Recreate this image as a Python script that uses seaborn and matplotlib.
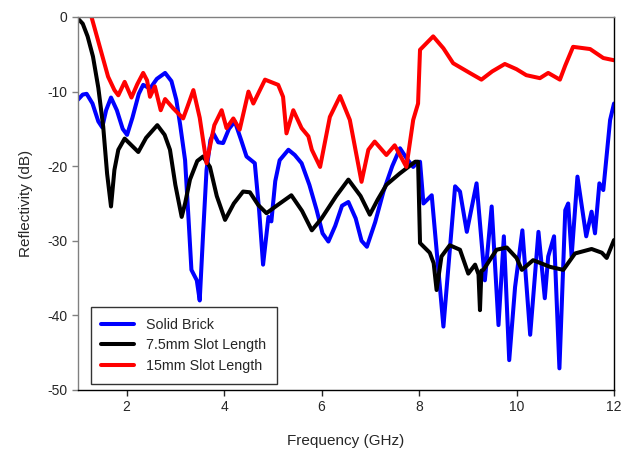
import matplotlib
matplotlib.use("Agg")
import matplotlib.pyplot as plt
import seaborn as sns
import pandas as pd

# ---- data ----
solid_x = [1.0, 1.1, 1.18, 1.3, 1.42, 1.5, 1.58, 1.68, 1.8, 1.92, 2.01, 2.12, 2.25, 2.34, 2.48, 2.62,
           2.79, 2.92, 3.02, 3.1, 3.2, 3.27, 3.33, 3.44, 3.5, 3.57, 3.64, 3.72, 3.78, 3.88, 3.98, 4.1,
           4.22, 4.35, 4.46, 4.63, 4.72, 4.8, 4.91, 4.97, 5.05, 5.14, 5.32, 5.45, 5.59, 5.75, 5.9, 6.02,
           6.14, 6.28, 6.42, 6.55, 6.7, 6.82, 6.93, 7.1, 7.27, 7.45, 7.61, 7.75, 7.88, 7.95, 8.02, 8.09,
           8.26, 8.5, 8.74, 8.84, 8.98, 9.18, 9.35, 9.49, 9.63, 9.74, 9.85, 9.97, 10.12, 10.28, 10.45,
           10.58, 10.65, 10.77, 10.88, 11.0, 11.06, 11.13, 11.25, 11.43, 11.54, 11.61, 11.7, 11.78,
           11.92, 12.0]
solid_y = [-11.1, -10.4, -10.3, -11.6, -14.0, -14.8, -12.5, -10.8, -12.5, -15.0, -15.8, -13.5, -10.3,
           -9.1, -9.6, -8.3, -7.5, -8.6, -11.1, -14.5, -19.2, -27.0, -33.9, -35.3, -38.0, -29.0, -20.5,
           -16.5, -15.6, -16.8, -16.9, -15.0, -14.0, -16.5, -18.7, -19.6, -26.0, -33.2, -26.8, -27.4,
           -22.0, -19.2, -17.8, -18.5, -19.6, -22.5, -25.9, -29.0, -30.1, -28.0, -25.3, -24.8, -27.0,
           -30.0, -30.8, -27.5, -23.4, -20.0, -17.6, -19.0, -20.1, -19.6, -19.4, -25.0, -23.9, -41.5,
           -22.7, -23.4, -28.8, -22.3, -35.3, -25.4, -41.3, -29.4, -46.0, -36.2, -28.6, -42.6, -28.8,
           -37.7, -32.1, -29.4, -47.1, -25.9, -25.0, -32.1, -21.4, -29.4, -26.1, -29.0, -22.3, -23.2,
           -13.8, -11.6]

slot75_x = [1.0, 1.1, 1.2, 1.31, 1.42, 1.52, 1.6, 1.68, 1.75, 1.83, 1.96, 2.1, 2.24, 2.4, 2.63, 2.78,
            2.89, 3.0, 3.13, 3.2, 3.3, 3.45, 3.57, 3.71, 3.85, 4.02, 4.2, 4.39, 4.53, 4.7, 4.87, 5.1,
            5.38, 5.6, 5.8, 6.0, 6.3, 6.55, 6.8, 6.99, 7.15, 7.33, 7.6, 7.92, 7.98, 8.02, 8.22, 8.3,
            8.36, 8.46, 8.63, 8.84, 9.01, 9.15, 9.22, 9.25, 9.28, 9.32, 9.59, 9.8, 10.0, 10.11, 10.34,
            10.69, 10.96, 11.2, 11.54, 11.75, 11.85, 12.0]
slot75_y = [-0.2, -0.9, -2.6, -5.3, -9.5, -14.7, -21.0, -25.4, -20.5, -17.8, -16.3, -17.2, -18.1,
            -16.2, -14.5, -15.8, -17.8, -22.5, -26.8, -25.0, -21.8, -19.3, -18.7, -20.1, -24.0, -27.2,
            -25.0, -23.4, -23.5, -25.2, -26.3, -25.2, -23.9, -26.0, -28.6, -27.0, -24.0, -21.8, -24.0,
            -26.5, -24.5, -22.5, -21.0, -19.4, -19.4, -30.3, -31.6, -33.0, -36.6, -32.1, -30.6, -31.2,
            -34.4, -33.2, -34.5, -39.3, -34.0, -33.9, -31.2, -30.9, -32.3, -33.9, -32.6, -33.5, -33.9,
            -31.7, -31.1, -31.6, -32.3, -29.9]

slot15_x = [1.0, 1.12, 1.22, 1.28, 1.45, 1.62, 1.75, 1.83, 1.96, 2.1, 2.22, 2.34, 2.42, 2.48, 2.58,
            2.7, 2.79, 2.95, 3.16, 3.25, 3.37, 3.5, 3.64, 3.8, 3.95, 4.05, 4.19, 4.32, 4.5, 4.6, 4.84,
            5.11, 5.21, 5.28, 5.42, 5.59, 5.73, 5.8, 5.97, 6.17, 6.38, 6.58, 6.82, 6.96, 7.09, 7.33,
            7.5, 7.74, 7.88, 7.98, 8.02, 8.29, 8.5, 8.7, 9.04, 9.28, 9.5, 9.76, 10.0, 10.2, 10.48,
            10.65, 10.89, 11.0, 11.16, 11.51, 11.78, 12.0]
slot15_y = [0.0, 2.0, 1.5, 0.0, -4.0, -8.0, -9.8, -10.5, -8.7, -10.8, -9.0, -7.5, -8.5, -10.7, -9.3,
            -12.5, -11.0, -12.2, -13.6, -12.0, -9.8, -13.5, -19.6, -14.5, -12.5, -14.9, -13.6, -15.1,
            -10.0, -11.6, -8.4, -9.1, -10.7, -15.6, -12.5, -14.9, -16.0, -17.8, -20.1, -13.4, -10.6,
            -13.8, -22.1, -17.8, -16.7, -18.5, -17.2, -20.1, -13.8, -11.6, -4.4, -2.6, -4.2, -6.2,
            -7.5, -8.4, -7.3, -6.3, -7.0, -7.8, -8.2, -7.5, -8.4, -6.5, -4.0, -4.3, -5.5, -5.8]

series_names = ["Solid Brick", "7.5mm Slot Length", "15mm Slot Length"]
series_colors = ["#0000FF", "#000000", "#FF0000"]
x_ticks = [2, 4, 6, 8, 10, 12]
y_ticks = [0, -10, -20, -30, -40, -50]

frames = []
for name, xs, ys in zip(series_names, [solid_x, slot75_x, slot15_x], [solid_y, slot75_y, slot15_y]):
    frames.append(pd.DataFrame({"Frequency": xs, "Reflectivity": ys, "Series": name}))
df = pd.concat(frames, ignore_index=True)

sns.set_style("ticks")
plt.rcParams["font.family"] = ["Liberation Sans", "DejaVu Sans"]
plt.rcParams["axes.unicode_minus"] = False

fig = plt.figure(figsize=(6.33, 4.54), dpi=100)
ax = fig.add_axes([0.123, 0.141, 0.847, 0.8216])

sns.lineplot(data=df, x="Frequency", y="Reflectivity", hue="Series", hue_order=series_names,
             palette=dict(zip(series_names, series_colors)), estimator=None, sort=False,
             linewidth=2.9, ax=ax)

ax.set_xlim(1, 12)
ax.set_ylim(-50, 0)
ax.set_xticks(x_ticks)
ax.set_yticks(y_ticks)
ax.tick_params(axis="both", labelsize=10, direction="out", length=4, width=1)
ax.tick_params(axis="y", color="#808080")
ax.set_xlabel("Frequency (GHz)", fontsize=11, labelpad=14)
ax.set_ylabel("Reflectivity (dB)", fontsize=11, labelpad=10)

for side in ["top", "left"]:
    ax.spines[side].set_color("#808080")
for side in ["bottom", "right"]:
    ax.spines[side].set_color("#000000")
for s in ax.spines.values():
    s.set_linewidth(1.0)
    s.set_visible(True)

leg = ax.legend(loc="lower left", bbox_to_anchor=(0.024, 0.017), borderaxespad=0,
                fontsize=10.3, frameon=True, fancybox=False, edgecolor="black",
                handlelength=2.3, handletextpad=0.8, labelspacing=0.45, borderpad=0.75)
leg.get_frame().set_linewidth(1.0)
for line in leg.get_lines():
    line.set_linewidth(2.9)

fig.savefig("out.png", dpi=100)
